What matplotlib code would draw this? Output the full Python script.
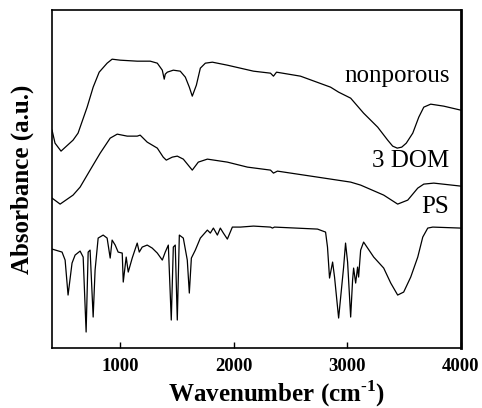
"""FTIR spectra of nonporous, 3DOM and PS samples."""

import matplotlib

matplotlib.use("Agg")
import matplotlib.pyplot as plt

plt.rcParams["font.family"] = "Liberation Serif"
plt.rcParams["mathtext.fontset"] = "custom"
plt.rcParams["mathtext.rm"] = "Liberation Serif"
plt.rcParams["mathtext.bf"] = "Liberation Serif:bold"

# wavenumber (cm-1) / absorbance (a.u., offset traces)
nonporous_wn = [400, 426, 479, 585, 629, 709, 762, 815, 885, 929, 1000, 1150, 1265, 1327,
                1371, 1388, 1397, 1415, 1468, 1529, 1574, 1609, 1635, 1671, 1706, 1750,
                1812, 1944, 2059, 2174, 2324, 2350, 2377, 2588, 2853, 2924, 3030, 3144,
                3268, 3356, 3400, 3440, 3480, 3520, 3577, 3630, 3674, 3735, 3850, 4000]
nonporous_abs = [218, 205, 197, 208, 215, 241, 261, 276, 285, 289, 288, 287, 287, 285,
                 278, 269, 274, 276, 278, 277, 271, 261, 252, 263, 280, 285,
                 286, 283, 280, 277, 275, 272, 276, 272, 261, 256, 250, 235,
                 221, 208, 202, 200, 201, 205, 215, 231, 241, 244, 242, 238]

dom_wn = [400, 471, 585, 647, 735, 824, 912, 974, 1062, 1150, 1176, 1238, 1327, 1379,
          1406, 1459, 1503, 1556, 1635, 1688, 1768, 1944, 2121, 2324, 2350, 2385, 2738,
          3030, 3118, 3321, 3444, 3533, 3621, 3674, 3762, 4000]
dom_abs = [150, 144, 153, 161, 178, 195, 210, 214, 212, 212, 213, 206, 200, 191,
           188, 191, 192, 189, 178, 186, 189, 186, 181, 178, 175, 177, 171,
           166, 163, 153, 144, 148, 160, 164, 165, 162]

ps_wn = [400, 488, 515, 541, 576, 603, 647, 674, 700, 718, 735, 762, 779, 806, 850, 885,
         912, 929, 956, 982, 1018, 1027, 1053, 1071, 1106, 1150, 1168, 1194, 1238, 1282,
         1327, 1371, 1397, 1424, 1450, 1468, 1485, 1503, 1521, 1556, 1591, 1609, 1627,
         1662, 1706, 1768, 1794, 1821, 1856, 1882, 1909, 1944, 1988, 2059, 2174, 2324,
         2341, 2359, 2738, 2809, 2826, 2844, 2871, 2888, 2924, 2968, 2985, 3003, 3030,
         3047, 3056, 3074, 3091, 3100, 3118, 3144, 3233, 3321, 3383, 3444, 3497, 3559,
         3621, 3665, 3709, 3753, 4000]
ps_abs = [99, 96, 88, 53, 85, 93, 97, 91, 16, 96, 98, 31, 78, 110, 113, 110,
          90, 108, 103, 96, 95, 66, 91, 76, 90, 105, 96, 101, 103, 100,
          95, 88, 96, 103, 28, 101, 103, 28, 113, 110, 88, 55, 90,
          98, 110, 118, 115, 120, 113, 120, 115, 109, 121, 121, 122, 121,
          120, 121, 119, 116, 101, 70, 86, 71, 30, 81, 105, 86, 31,
          68, 80, 65, 81, 71, 98, 106, 91, 80, 65, 53, 56, 71,
          91, 111, 120, 121, 120]

labels = ["nonporous", "3 DOM", "PS"]
label_y = [266, 181, 135]
x_ticks = [1000, 2000, 3000, 4000]


def main() -> None:
    fig = plt.figure(figsize=(4.82, 4.08), dpi=100)
    ax = fig.add_axes([0.108, 0.147, 0.848, 0.828])

    for wn, ab in [(nonporous_wn, nonporous_abs), (dom_wn, dom_abs), (ps_wn, ps_abs)]:
        ax.plot(wn, ab, color="black", lw=0.9)

    for text, y in zip(labels, label_y):
        ax.text(3900, y, text, ha="right", va="baseline", fontsize=18)

    ax.set_xlim(400, 4000)
    ax.set_ylim(0, 338)
    ax.set_xticks(x_ticks)
    ax.set_yticks([])
    ax.tick_params(axis="x", direction="in", length=4, width=1, pad=7,
                   labelsize=13.5)
    for lab in ax.get_xticklabels():
        lab.set_fontweight("bold")
    for side in ["left", "top", "bottom"]:
        ax.spines[side].set_linewidth(1.2)
    ax.spines["right"].set_linewidth(2.0)

    ax.set_xlabel("Wavenumber (cm$^{\\mathbf{\u2010}\\mathbf{1}}$)", fontsize=18,
                  fontweight="bold")
    ax.xaxis.set_label_coords(0.55, -0.089)
    ax.set_ylabel("Absorbance (a.u.)", fontsize=18, fontweight="bold")
    ax.yaxis.set_label_coords(-0.045, 0.5)

    fig.savefig("out.png", dpi=100)
    plt.close(fig)


if __name__ == "__main__":
    main()
